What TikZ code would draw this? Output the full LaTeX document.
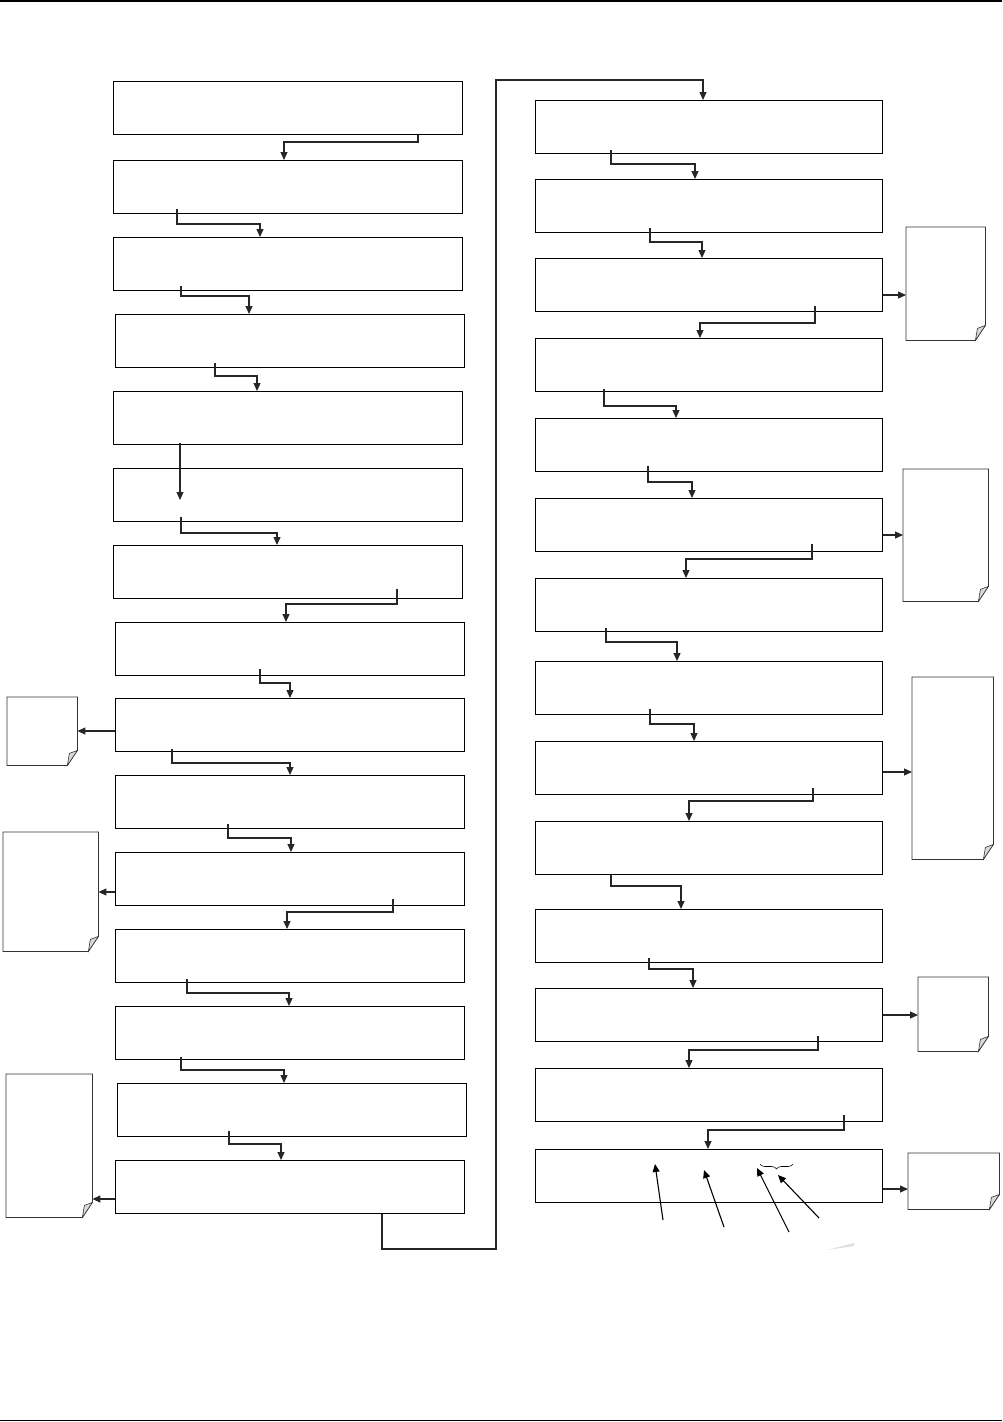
\documentclass[tikz,border=0pt]{standalone}
\usetikzlibrary{arrows.meta,decorations.pathreplacing}

\begin{document}
\begin{tikzpicture}[
  x=1pt, y=-1pt,
  >={Triangle[length=8pt,width=7pt]},
  box/.style={draw, line width=1pt, anchor=north west, inner sep=0pt,
              minimum width=349pt, minimum height=53pt},
  rbox/.style={box, minimum width=347pt},
  page/.style={anchor=north west, inner sep=0pt, draw=none},
  flow/.style={->, line width=1.2pt, black!85},
  ptr/.style={->, line width=1.1pt, black},
  rule/.style={line width=1.5pt},
]
\useasboundingbox (0,0) rectangle (1002,1422);

% ---- page rules ----
\draw[rule] (0,1) -- (1002,1);
\draw[rule] (0,1420.5) -- (1002,1420.5);

% ---- left column ----
\node[box] (l1) at (113,81) {};
\node[box] (l2) at (113,160) {};
\node[box] (l3) at (113,237) {};
\node[box] (l4) at (115,314) {};
\node[box] (l5) at (113,391) {};
\node[box] (l6) at (113,468) {};
\node[box] (l7) at (113,545) {};
\node[box] (l8) at (115,622) {};
\node[box] (l9) at (115,698) {};
\node[box] (l10) at (115,775) {};
\node[box] (l11) at (115,852) {};
\node[box] (l12) at (115,929) {};
\node[box] (l13) at (115,1006) {};
\node[box] (l14) at (117,1083) {};
\node[box] (l15) at (115,1160) {};

% ---- right column ----
\node[rbox] (r1) at (535,100) {};
\node[rbox] (r2) at (535,179) {};
\node[rbox] (r3) at (535,258) {};
\node[rbox] (r4) at (535,338) {};
\node[rbox] (r5) at (535,418) {};
\node[rbox] (r6) at (535,498) {};
\node[rbox] (r7) at (535,578) {};
\node[rbox] (r8) at (535,661) {};
\node[rbox] (r9) at (535,741) {};
\node[rbox] (r10) at (535,821) {};
\node[rbox] (r11) at (535,909) {};
\node[rbox] (r12) at (535,988) {};
\node[rbox] (r13) at (535,1068) {};
\node[rbox] (r14) at (535,1149) {};

% ---- side pages ----
\node[page, minimum width=70pt, minimum height=68pt] (d1) at (7,697) {};
\node[page, minimum width=95pt, minimum height=119pt] (d2) at (3,832) {};
\node[page, minimum width=86pt, minimum height=143pt] (d3) at (6,1074) {};
\node[page, minimum width=79pt, minimum height=113pt] (d4) at (906,227) {};
\node[page, minimum width=85pt, minimum height=132pt] (d5) at (903,469) {};
\node[page, minimum width=81pt, minimum height=182pt] (d6) at (912,677) {};
\node[page, minimum width=70pt, minimum height=74pt] (d7) at (918,977) {};
\node[page, minimum width=91pt, minimum height=56pt] (d8) at (908,1153) {};

\foreach \d in {d1,d2,d3,d4,d5,d6,d7,d8}{
  \draw[line width=0.8pt, black!80] (\d.north west) -- (\d.north east)
    -- ([yshift=15pt]\d.south east) -- ([xshift=-10pt]\d.south east)
    -- (\d.south west) -- cycle;
  \filldraw[fill=gray!30, draw=black!80, line width=0.6pt]
    ([yshift=15pt]\d.south east) -- ([xshift=-10pt]\d.south east)
    -- ([xshift=-8pt,yshift=12pt]\d.south east) -- cycle;
}

% ---- left flow ----
\draw[flow] ([xshift=305pt]l1.south west) -- ++(0,7) -| ([xshift=171pt]l2.north west);
\draw[flow] ([xshift=64pt,yshift=5pt]l2.south west) -- ++(0,15) -| ([xshift=147pt]l3.north west);
\draw[flow] ([xshift=68pt,yshift=5pt]l3.south west) -- ++(0,10) -| ([xshift=134pt]l4.north west);
\draw[flow] ([xshift=100pt,yshift=5pt]l4.south west) -- ++(0,13) -| ([xshift=144pt]l5.north west);
\draw[flow] ([xshift=67pt,yshift=2pt]l5.south west) -- ([xshift=67pt,yshift=-32pt]l6.north west);
\draw[flow] ([xshift=68pt,yshift=5pt]l6.south west) -- ++(0,16) -| ([xshift=164pt]l7.north west);
\draw[flow] ([xshift=284pt,yshift=10pt]l7.south west) -- ++(0,15) -| ([xshift=171pt]l8.north west);
\draw[flow] ([xshift=145pt,yshift=7pt]l8.south west) -- ++(0,14) -| ([xshift=175pt]l9.north west);
\draw[flow] ([xshift=57pt,yshift=3pt]l9.south west) -- ++(0,14) -| ([xshift=175pt]l10.north west);
\draw[flow] ([xshift=113pt,yshift=5pt]l10.south west) -- ++(0,14) -| ([xshift=176pt]l11.north west);
\draw[flow] ([xshift=278pt,yshift=7pt]l11.south west) -- ++(0,13) -| ([xshift=172pt]l12.north west);
\draw[flow] ([xshift=72pt,yshift=4pt]l12.south west) -- ++(0,14) -| ([xshift=174pt]l13.north west);
\draw[flow] ([xshift=66pt,yshift=3pt]l13.south west) -- ++(0,13) -| ([xshift=167pt]l14.north west);
\draw[flow] ([xshift=112pt,yshift=6pt]l14.south west) -- ++(0,13) -| ([xshift=166pt]l15.north west);

% ---- crossover to right column ----
\draw[flow] ([xshift=267pt]l15.south west) -- ++(0,35)
  -| ([xshift=-39pt,yshift=20pt]r1.north west) -| ([xshift=168pt]r1.north west);

% ---- right flow ----
\draw[flow] ([xshift=76pt,yshift=4pt]r1.south west) -- ++(0,14) -| ([xshift=160pt]r2.north west);
\draw[flow] ([xshift=115pt,yshift=5pt]r2.south west) -- ++(0,14) -| ([xshift=167pt]r3.north west);
\draw[flow] ([xshift=280pt,yshift=6pt]r3.south west) -- ++(0,17) -| ([xshift=165pt]r4.north west);
\draw[flow] ([xshift=69pt,yshift=3pt]r4.south west) -- ++(0,17) -| ([xshift=141pt]r5.north west);
\draw[flow] ([xshift=113pt,yshift=6pt]r5.south west) -- ++(0,16) -| ([xshift=157pt]r6.north west);
\draw[flow] ([xshift=277pt,yshift=8pt]r6.south west) -- ++(0,15) -| ([xshift=151pt]r7.north west);
\draw[flow] ([xshift=71pt,yshift=4pt]r7.south west) -- ++(0,14) -| ([xshift=142pt]r8.north west);
\draw[flow] ([xshift=115pt,yshift=6pt]r8.south west) -- ++(0,15) -| ([xshift=159pt]r9.north west);
\draw[flow] ([xshift=278pt,yshift=7pt]r9.south west) -- ++(0,13) -| ([xshift=154pt]r10.north west);
\draw[flow] ([xshift=76pt]r10.south west) -- ++(0,11) -| ([xshift=146pt]r11.north west);
\draw[flow] ([xshift=114pt,yshift=5pt]r11.south west) -- ++(0,11) -| ([xshift=158pt]r12.north west);
\draw[flow] ([xshift=283pt,yshift=6pt]r12.south west) -- ++(0,14) -| ([xshift=154pt]r13.north west);
\draw[flow] ([xshift=309pt,yshift=7pt]r13.south west) -- ++(0,15) -| ([xshift=173pt]r14.north west);

% ---- arrows to pages ----
\draw[flow] ([yshift=-6pt]l9.west) -- ([yshift=-6pt]l9.west -| d1.east);
\draw[flow] ([yshift=-13pt]l11.west) -- ([yshift=-13pt]l11.west -| d2.east);
\draw[flow] ([yshift=-12pt]l15.west) -- ([yshift=-12pt]l15.west -| d3.east);
\draw[flow] ([yshift=-10pt]r3.east) -- ([yshift=-10pt]r3.east -| d4.west);
\draw[flow] ([yshift=-10pt]r6.east) -- ([yshift=-10pt]r6.east -| d5.west);
\draw[flow] ([yshift=-4pt]r9.east) -- ([yshift=-4pt]r9.east -| d6.west);
\draw[flow] (r12.east) -- (r12.east -| d7.west);
\draw[flow] ([yshift=-13pt]r14.east) -- ([yshift=-13pt]r14.east -| d8.west);

% ---- pointers into last box ----
\coordinate (p1) at (663,1220);
\coordinate (p2) at (724,1227);
\coordinate (p3) at (789,1232);
\coordinate (p4) at (819,1218);
\coordinate (q1) at (655,1164);
\coordinate (q2) at (704,1170);
\coordinate (q3) at (757,1168);
\coordinate (q4) at (778,1175);
\draw[ptr] (p1) -- (q1);
\draw[ptr] (p2) -- (q2);
\draw[ptr] (p3) -- (q3);
\draw[ptr] (p4) -- (q4);
\draw[line width=0.6pt, decorate, decoration={brace, mirror, amplitude=5pt}]
  (760,1164) -- (793,1164);
\fill[gray!25] (827,1250) -- (854,1243) -- (854,1246) -- cycle;
\end{tikzpicture}
\end{document}
